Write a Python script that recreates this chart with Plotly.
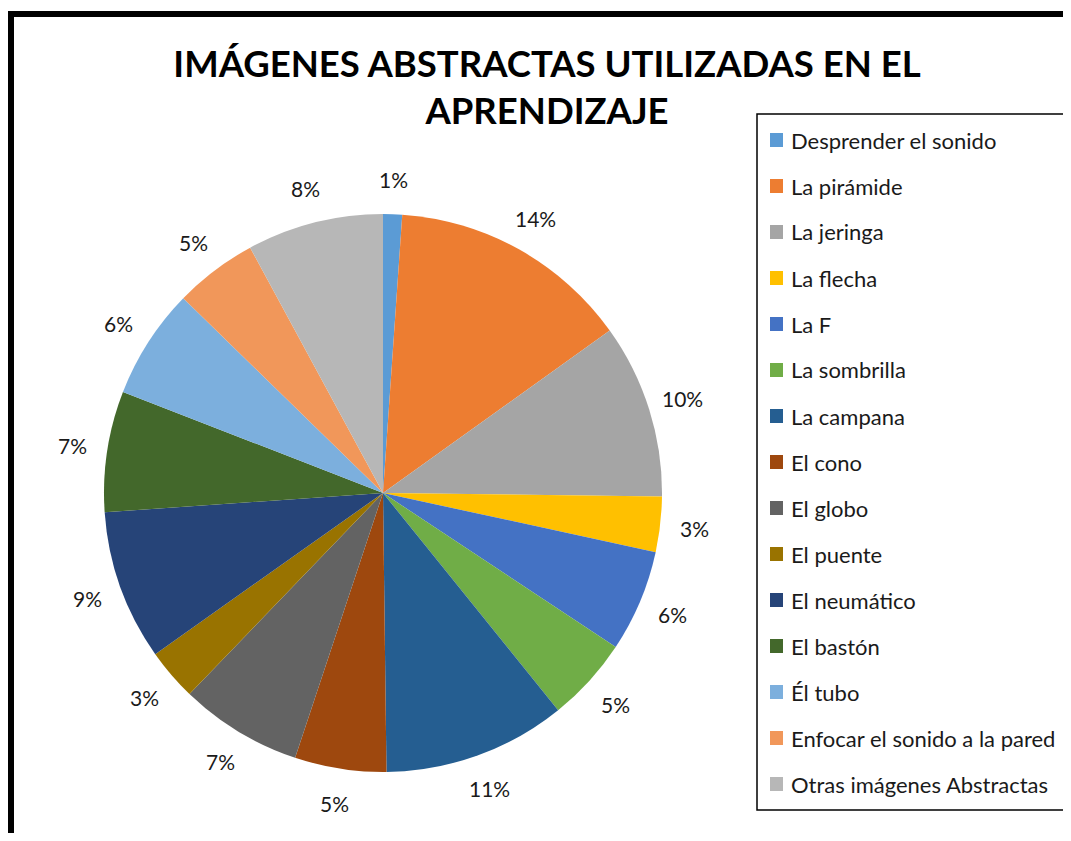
import math
import plotly.graph_objects as go

# page has an 8px body margin; figure is sized to fit inside the 1071x841 window
OFF = 8
W, H = 1071 - 2 * OFF, 841 - 2 * OFF

labels = ["Desprender el sonido", "La pirámide", "La jeringa", "La flecha", "La F",
          "La sombrilla", "La campana", "El cono", "El globo", "El puente",
          "El neumático", "El bastón", "Él tubo", "Enfocar el sonido a la pared",
          "Otras imágenes Abstractas"]
values = [1.1, 14.0, 10.1, 3.2, 5.9, 4.9, 10.6, 5.3, 7.1, 3.0, 8.7, 7.0, 6.4, 4.8, 7.9]
colors = ["#5B9BD5", "#ED7D31", "#A5A5A5", "#FFC000", "#4472C4", "#70AD47", "#255E91",
          "#9E480E", "#636363", "#997300", "#264478", "#43682B", "#7CAFDD", "#F1975A",
          "#B7B7B7"]
title_text = "IMÁGENES ABSTRACTAS UTILIZADAS EN EL<br>APRENDIZAJE"

FONT = "Lato"


def px(x):
    return (x - OFF) / W


def py(y):
    return 1 - (y - OFF) / H


# pie geometry in window pixels
cx_px, cy_px, r_px = 383, 493, 279
label_r_px = 314

fig = go.Figure(go.Pie(
    labels=labels, values=values, sort=False, direction="clockwise", rotation=0,
    marker=dict(colors=colors, line=dict(width=0)),
    textinfo="none", showlegend=False,
    domain=dict(x=[px(cx_px - r_px), px(cx_px + r_px)],
                y=[py(cy_px + r_px), py(cy_px - r_px)]),
))

annotations = []
total = sum(values)
cum = 0.0
for v in values:
    theta = 2 * math.pi * (cum + v / 2) / total
    cum += v
    annotations.append(dict(x=px(cx_px + label_r_px * math.sin(theta)),
                            y=py(cy_px - label_r_px * math.cos(theta)),
                            xref="paper", yref="paper", showarrow=False,
                            text=f"{round(100 * v / total)}%",
                            font=dict(family=FONT, size=21, color="#1a1a1a"),
                            xanchor="center", yanchor="middle"))

shapes = []
# outer chart border (top and left visible)
shapes.append(dict(type="line", xref="paper", yref="paper", x0=px(8), x1=1.02,
                   y0=py(14), y1=py(14), line=dict(color="black", width=6)))
shapes.append(dict(type="line", xref="paper", yref="paper", x0=px(11), x1=px(11),
                   y0=py(12), y1=-0.02, line=dict(color="black", width=6)))
# legend box
lx0, lx1, ly0, ly1 = 757, 1066, 114, 810
shapes.append(dict(type="rect", xref="paper", yref="paper", x0=px(lx0), x1=px(lx1),
                   y0=py(ly1), y1=py(ly0), line=dict(color="black", width=1.5),
                   fillcolor="rgba(0,0,0,0)"))
for i, (lab, col) in enumerate(zip(labels, colors)):
    yc = 140 + 46 * i
    shapes.append(dict(type="rect", xref="paper", yref="paper",
                       x0=px(770), x1=px(783), y0=py(yc + 7), y1=py(yc - 7),
                       line=dict(width=0), fillcolor=col))
    annotations.append(dict(x=px(789), y=py(yc), xref="paper", yref="paper",
                            showarrow=False, text=lab, xanchor="left", yanchor="middle",
                            font=dict(family=FONT, size=22, color="#1a1a1a")))

fig.update_layout(
    width=W, height=H,
    margin=dict(l=0, r=0, t=0, b=0),
    paper_bgcolor="white", plot_bgcolor="white",
    title=dict(text=f"<b>{title_text}</b>", x=px(547), xanchor="center",
               y=py(77), yanchor="middle",
               font=dict(family=FONT, size=36.5, color="black")),
    annotations=annotations, shapes=shapes,
)

fig.write_html("out.html")
